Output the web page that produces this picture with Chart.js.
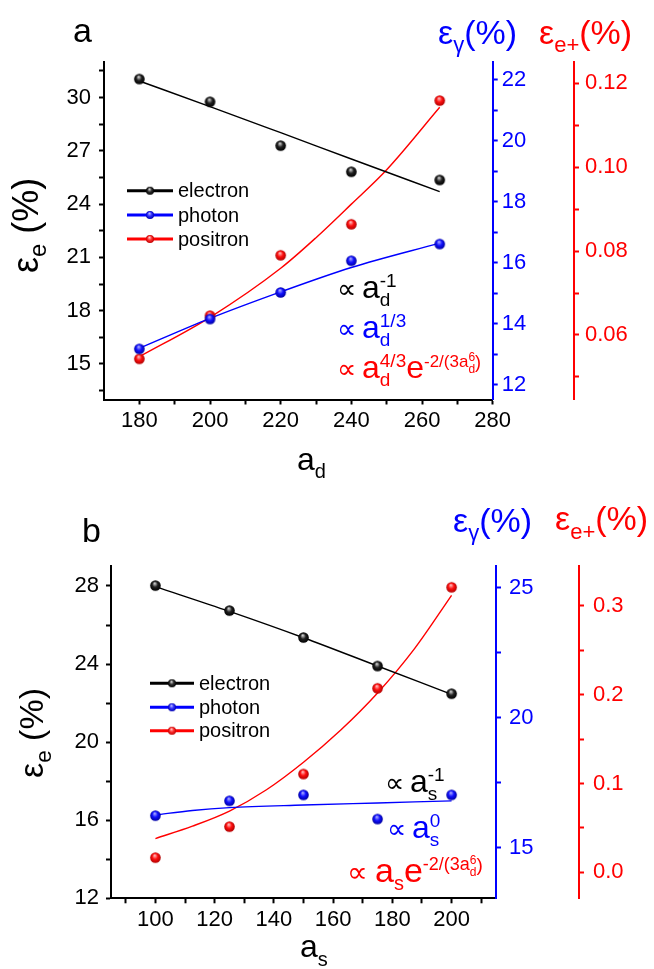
<!DOCTYPE html>
<html>
<head>
<meta charset="utf-8">
<script src="https://cdn.jsdelivr.net/npm/chart.js@4.4.1/dist/chart.umd.min.js"></script>
<style>
  html, body { margin: 0; padding: 0; background: #fff; }
  canvas { display: block; }
</style>
</head>
<body>
<canvas id="chartA" width="654" height="480"></canvas>
<canvas id="chartB" width="654" height="489"></canvas>
<script>
// ---------- panel a : values ----------
const adValues = [180, 200, 220, 240, 265];
const electronA = [31.04, 29.76, 27.29, 25.82, 25.36];
const photonA = [13.18, 14.16, 15.03, 16.07, 16.62];
const positronA = [0.0543, 0.0646, 0.0790, 0.0864, 0.1159];

// fitted curves
const electronFitXA = [180, 200, 220, 240, 265];
const electronFitA = [30.93, 29.49, 28.02, 26.54, 24.70];
const photonFitXA = [180, 200, 220, 240, 265];
const photonFitA = [13.20, 14.18, 15.05, 15.85, 16.65];
const positronFitXA = [180, 200, 220, 230, 240, 250, 265];
const positronFitA = [0.0548, 0.0642, 0.0759, 0.0832, 0.0912, 0.0994, 0.1143];

// ---------- panel b ----------
const asValues = [100, 125, 150, 175, 200];
const electronB = [28.02, 26.74, 25.36, 23.90, 22.48];
const photonB = [16.23, 16.80, 17.03, 16.10, 17.03];
const positronB = [0.0165, 0.0514, 0.1107, 0.2073, 0.3211];

const electronFitXB = [100, 125, 150, 175, 200];
const electronFitB = [27.97, 26.70, 25.35, 23.90, 22.45];
const photonFitXB = [100, 112.5, 125, 150, 175, 200];
const photonFitB = [16.26, 16.43, 16.54, 16.64, 16.72, 16.80];
const positronFitXB = [100, 112.5, 125, 137.5, 150, 162.5, 175, 187.5, 200];
const positronFitB = [0.038, 0.052, 0.069, 0.093, 0.124, 0.160, 0.202, 0.252, 0.312];

// ---------- tick values ----------
const xTicksA = [180, 200, 220, 240, 260, 280];
const xMinorA = [190, 210, 230, 250, 270];
const yTicksA = [15, 18, 21, 24, 27, 30];
const yMinorA = [13.5, 16.5, 19.5, 22.5, 25.5, 28.5, 31.5];
const photonTicksA = [12, 14, 16, 18, 20, 22];
const photonMinorA = [13, 15, 17, 19, 21];
const positronTicksA = [0.06, 0.08, 0.10, 0.12];
const positronMinorA = [0.05, 0.07, 0.09, 0.11];

const xTicksB = [100, 120, 140, 160, 180, 200];
const xMinorB = [90, 110, 130, 150, 170, 190, 210];
const yTicksB = [12, 16, 20, 24, 28];
const yMinorB = [14, 18, 22, 26];
const photonTicksB = [15, 20, 25];
const photonMinorB = [17.5, 22.5];
const positronTicksB = [0.0, 0.1, 0.2, 0.3];
const positronMinorB = [0.05, 0.15, 0.25];

const FONT = '"Liberation Sans", Arial, "DejaVu Sans", sans-serif';
const SYM_FONT = '"DejaVu Sans", sans-serif';
const BLUE = '#0000ff';
const RED = '#ff0000';
const BLACK = '#000000';

// little shaded balls used as markers
function ball(light, mid, dark, r) {
    const c = document.createElement('canvas');
    const s = Math.ceil(r * 2 + 2);
    c.width = s;
    c.height = s;
    const g = c.getContext('2d');
    const grad = g.createRadialGradient(s / 2 - r * 0.15, s / 2 - r * 0.45, r * 0.05, s / 2, s / 2, r);
    grad.addColorStop(0, light);
    grad.addColorStop(0.5, mid);
    grad.addColorStop(1, dark);
    g.fillStyle = grad;
    g.beginPath();
    g.arc(s / 2, s / 2, r, 0, Math.PI * 2);
    g.fill();
    return c;
}

const ballBlack = ball('#d8d8d8', '#202020', '#000000', 5.3);
const ballBlue = ball('#b0b0ff', '#1010ff', '#0000a0', 5.3);
const ballRed = ball('#ffc0c0', '#ff1010', '#b00000', 5.3);
const legBlack = ball('#e0e0e0', '#303030', '#000000', 4);
const legBlue = ball('#c0c0ff', '#3030ff', '#0000b0', 4);
const legRed = ball('#ffd0d0', '#ff3030', '#c00000', 4);

function pts(xs, ys, axisId, style) {
    return {
        data: xs.map((x, i) => ({ x: x, y: ys[i] })),
        yAxisID: axisId,
        showLine: false,
        pointStyle: style,
        pointRadius: 5,
        order: 0
    };
}

function fit(xs, ys, axisId, color) {
    return {
        data: xs.map((x, i) => ({ x: x, y: ys[i] })),
        yAxisID: axisId,
        showLine: true,
        borderColor: color,
        borderWidth: 1.4,
        pointRadius: 0,
        cubicInterpolationMode: 'monotone',
        fill: false,
        order: 1
    };
}

function makeScale(o) {
    const isMajor = v => o.majors.some(m => Math.abs(m - v) < 1e-9);
    return {
        type: 'linear',
        position: o.position,
        weight: o.weight || 0,
        min: o.min,
        max: o.max,
        border: { display: true, color: o.color, width: 2 },
        grid: {
            display: true,
            drawOnChartArea: false,
            drawTicks: true,
            tickLength: 5,
            tickWidth: 2,
            tickColor: o.color,
            color: o.color
        },
        ticks: {
            color: o.color,
            font: { family: FONT, size: 22 },
            padding: o.padding,
            autoSkip: false,
            maxRotation: 0,
            callback: v => isMajor(v) ? o.fmt(v) : ''
        },
        afterBuildTicks: s => {
            s.ticks = o.majors.concat(o.minors)
                .filter(v => v >= o.min - 1e-9 && v <= o.max + 1e-9)
                .sort((a, b) => a - b)
                .map(v => ({ value: v }));
        },
        afterFit: s => {
            if (o.position === 'bottom') s.height = o.size;
            else s.width = o.size;
        }
    };
}

// text with sub/superscripts, parts drawn left to right
function rich(ctx, x, y, color, parts) {
    ctx.save();
    ctx.fillStyle = color;
    ctx.textBaseline = 'alphabetic';
    ctx.textAlign = 'left';
    let cx = x;
    let lastX = x;
    parts.forEach(p => {
        ctx.font = p.size + 'px ' + (p.family || FONT);
        const w = ctx.measureText(p.t).width;
        let px;
        if (p.at !== undefined) px = p.at;
        else if (p.stack) px = lastX;
        else px = cx;
        ctx.fillText(p.t, px, y + (p.dy || 0));
        if (p.stack) {
            cx = Math.max(cx, px + w);
        } else {
            lastX = px;
            cx = px + w;
        }
    });
    ctx.restore();
}

function drawLegend(ctx, x0, x1, textX, ys) {
    const items = [
        ['electron', BLACK, legBlack],
        ['photon', BLUE, legBlue],
        ['positron', RED, legRed]
    ];
    ctx.save();
    items.forEach((it, i) => {
        const y = ys[i];
        ctx.strokeStyle = it[1];
        ctx.lineWidth = 3;
        ctx.beginPath();
        ctx.moveTo(x0, y);
        ctx.lineTo(x1, y);
        ctx.stroke();
        const b = it[2];
        ctx.drawImage(b, (x0 + x1) / 2 - b.width / 2, y - b.height / 2);
        ctx.fillStyle = BLACK;
        ctx.font = '20px ' + FONT;
        ctx.textBaseline = 'middle';
        ctx.fillText(it[0], textX, y + 1);
    });
    ctx.restore();
}

function leftTitle(ctx, x, y, size) {
    ctx.save();
    ctx.translate(x, y);
    ctx.rotate(-Math.PI / 2);
    rich(ctx, 0, 0, BLACK, [
        { t: 'ε', size: size },
        { t: 'e', size: size * 0.66, dy: 8 },
        { t: ' (%)', size: size }
    ]);
    ctx.restore();
}

// proportional-to sign; the glyph is small in these fonts, so it gets a bigger size
function prop(x, size) {
    return { t: '∝', size: size, at: x, family: SYM_FONT };
}

const annotA = {
    id: 'annotA',
    afterDraw(chart) {
        const ctx = chart.ctx;
        ctx.save();
        ctx.fillStyle = BLACK;
        ctx.font = '34px ' + FONT;
        ctx.fillText('a', 73, 42);
        ctx.restore();

        leftTitle(ctx, 38, 273, 36);
        rich(ctx, 438, 44, BLUE, [
            { t: 'ε', size: 34 }, { t: 'γ', size: 22, dy: 8 }, { t: '(%)', size: 34 }
        ]);
        rich(ctx, 539, 44, RED, [
            { t: 'ε', size: 34 }, { t: 'e+', size: 22, dy: 8 }, { t: '(%)', size: 34 }
        ]);
        rich(ctx, 297, 470, BLACK, [{ t: 'a', size: 32 }, { t: 'd', size: 20, dy: 8 }]);

        rich(ctx, 0, 298, BLACK, [
            prop(337, 27), { t: 'a', size: 32, at: 362 },
            { t: 'd', size: 19, dy: 8 }, { t: '-1', size: 19, dy: -11, stack: true }
        ]);
        rich(ctx, 0, 338, BLUE, [
            prop(337, 27), { t: 'a', size: 32, at: 362 },
            { t: 'd', size: 19, dy: 8 }, { t: '1/3', size: 19, dy: -11, stack: true }
        ]);
        rich(ctx, 0, 378, RED, [
            prop(337, 27), { t: 'a', size: 32, at: 362 },
            { t: 'd', size: 19, dy: 8 }, { t: '4/3', size: 19, dy: -11, stack: true },
            { t: 'e', size: 32 }, { t: '-2/(3a', size: 17, dy: -11 },
            { t: 'd', size: 12, dy: -5 }, { t: '6', size: 12, dy: -17, stack: true },
            { t: ')', size: 18, dy: -10 }
        ]);

        drawLegend(ctx, 127, 173, 178, [190.7, 215, 239]);
    }
};

const annotB = {
    id: 'annotB',
    afterDraw(chart) {
        const ctx = chart.ctx;
        ctx.save();
        ctx.fillStyle = BLACK;
        ctx.font = '34px ' + FONT;
        ctx.fillText('b', 82, 62);
        ctx.restore();

        leftTitle(ctx, 43, 298, 34);
        rich(ctx, 453, 52, BLUE, [
            { t: 'ε', size: 34 }, { t: 'γ', size: 22, dy: 8 }, { t: '(%)', size: 34 }
        ]);
        rich(ctx, 555, 50, RED, [
            { t: 'ε', size: 34 }, { t: 'e+', size: 22, dy: 9 }, { t: '(%)', size: 34 }
        ]);
        rich(ctx, 300, 477, BLACK, [{ t: 'a', size: 32 }, { t: 's', size: 20, dy: 9 }]);

        rich(ctx, 0, 312, BLACK, [
            prop(385, 27), { t: 'a', size: 32, at: 410 },
            { t: 's', size: 19, dy: 8 }, { t: '-1', size: 19, dy: -11, stack: true }
        ]);
        rich(ctx, 0, 358, BLUE, [
            prop(387, 27), { t: 'a', size: 32, at: 412 },
            { t: 's', size: 19, dy: 8 }, { t: '0', size: 19, dy: -11, stack: true }
        ]);
        rich(ctx, 0, 402, RED, [
            prop(347, 29), { t: 'a', size: 34, at: 375 },
            { t: 's', size: 20, dy: 8 }, { t: 'e', size: 34 },
            { t: '-2/(3a', size: 18, dy: -12 },
            { t: 'd', size: 12, dy: -6 }, { t: '6', size: 12, dy: -18, stack: true },
            { t: ')', size: 19, dy: -11 }
        ]);

        drawLegend(ctx, 150, 194, 199, [203.3, 227.3, 250.7]);
    }
};

const intFmt = v => String(Math.round(v));

new Chart(document.getElementById('chartA'), {
    type: 'scatter',
    data: {
        datasets: [
            pts(adValues, electronA, 'y', ballBlack),
            pts(adValues, photonA, 'yBlue', ballBlue),
            pts(adValues, positronA, 'yRed', ballRed),
            fit(electronFitXA, electronFitA, 'y', BLACK),
            fit(photonFitXA, photonFitA, 'yBlue', BLUE),
            fit(positronFitXA, positronFitA, 'yRed', RED)
        ]
    },
    options: {
        responsive: false,
        animation: false,
        layout: { padding: { top: 62, left: 0, right: 0, bottom: 0 } },
        plugins: { legend: { display: false }, tooltip: { enabled: false } },
        scales: {
            x: makeScale({ position: 'bottom', min: 170, max: 280, majors: xTicksA, minors: xMinorA,
                color: BLACK, size: 80.5, padding: 3, fmt: intFmt }),
            y: makeScale({ position: 'left', min: 13, max: 32, majors: yTicksA, minors: yMinorA,
                color: BLACK, size: 104, padding: 8, fmt: intFmt }),
            yBlue: makeScale({ position: 'right', weight: 0, min: 11.52, max: 22.59, majors: photonTicksA,
                minors: photonMinorA, color: BLUE, size: 81.3, padding: 4, fmt: intFmt }),
            yRed: makeScale({ position: 'right', weight: 1, min: 0.0446, max: 0.1251, majors: positronTicksA,
                minors: positronMinorA, color: RED, size: 80, padding: 6, fmt: v => v.toFixed(2) })
        }
    },
    plugins: [annotA]
});

new Chart(document.getElementById('chartB'), {
    type: 'scatter',
    data: {
        datasets: [
            pts(asValues, electronB, 'y', ballBlack),
            pts(asValues, photonB, 'yBlue', ballBlue),
            pts(asValues, positronB, 'yRed', ballRed),
            fit(electronFitXB, electronFitB, 'y', BLACK),
            fit(photonFitXB, photonFitB, 'yBlue', BLUE),
            fit(positronFitXB, positronFitB, 'yRed', RED)
        ]
    },
    options: {
        responsive: false,
        animation: false,
        layout: { padding: { top: 85.7, left: 0, right: 0, bottom: 0 } },
        plugins: { legend: { display: false }, tooltip: { enabled: false } },
        scales: {
            x: makeScale({ position: 'bottom', min: 85, max: 215, majors: xTicksB, minors: xMinorB,
                color: BLACK, size: 70.7, padding: 3, fmt: intFmt }),
            y: makeScale({ position: 'left', min: 12, max: 29.04, majors: yTicksB, minors: yMinorB,
                color: BLACK, size: 111, padding: 7, fmt: intFmt }),
            yBlue: makeScale({ position: 'right', weight: 0, min: 13.05, max: 25.85, majors: photonTicksB,
                minors: photonMinorB, color: BLUE, size: 83, padding: 8, fmt: intFmt }),
            yRed: makeScale({ position: 'right', weight: 1, min: -0.0293, max: 0.3454, majors: positronTicksB,
                minors: positronMinorB, color: RED, size: 75, padding: 9, fmt: v => v.toFixed(1) })
        }
    },
    plugins: [annotB]
});
</script>
</body>
</html>
